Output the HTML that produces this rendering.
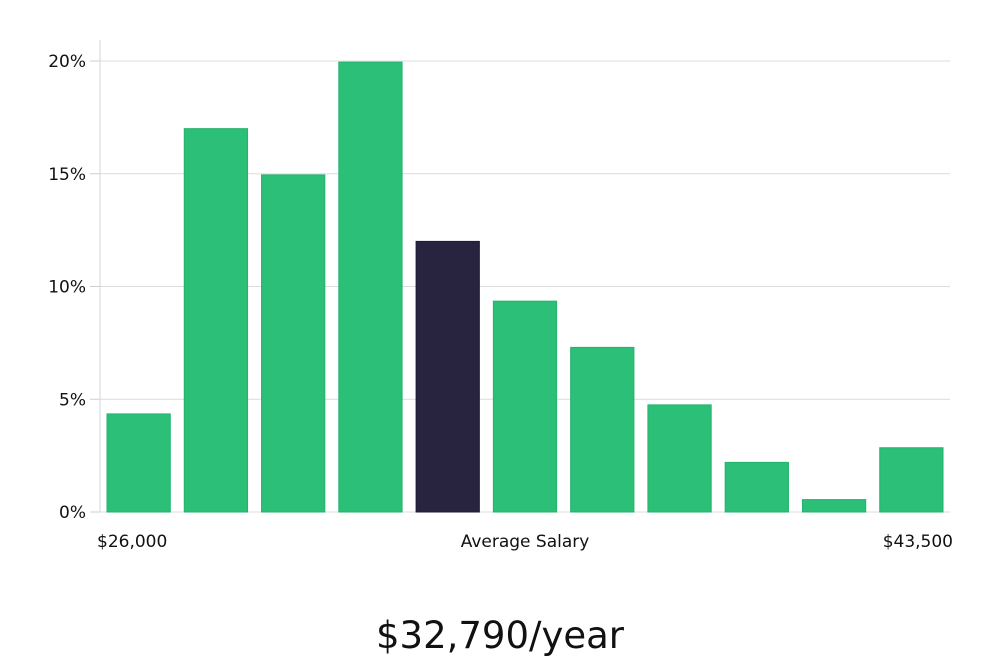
<!DOCTYPE html>
<html><head><meta charset="utf-8"><style>
body{margin:0;background:#fff;width:1000px;height:660px;overflow:hidden}
svg text{font-family:"DejaVu Sans","Liberation Sans",sans-serif;fill:#111}
</style></head><body>
<svg id="chart" width="1000" height="660" xmlns="http://www.w3.org/2000/svg"></svg>
<script>
const categories = ["b1","b2","b3","b4","b5","b6","b7","b8","b9","b10","b11"];
const values = [4.35, 17.0, 14.95, 19.95, 12.0, 9.35, 7.3, 4.75, 2.2, 0.55, 2.85];
const highlightIndex = 4;
const yTicks = [0, 5, 10, 15, 20];
const yTickLabels = ["0%", "5%", "10%", "15%", "20%"];
const xLabels = ["$26,000", "Average Salary", "$43,500"];
const headline = "$32,790/year";

const svg = document.getElementById('chart');
const NS = 'http://www.w3.org/2000/svg';
const x0 = 100, x1 = 950, yBase = 512, yTop20 = 61;
const y = v => yBase - (v / 20) * (yBase - yTop20);
const band = (x1 - x0) / categories.length;
const xb = i => x0 + i * band;
function mk(tag, attrs){const e=document.createElementNS(NS,tag);for(const k in attrs)e.setAttribute(k,attrs[k]);svg.appendChild(e);return e;}

yTicks.forEach((t,i)=>{
  const g = mk('line',{x1:x0,x2:x1,y1:y(t),y2:y(t),stroke:'#dcdcdc','stroke-width':1});
  
  
  const tk = mk('line',{x1:90,x2:x0,y1:y(t),y2:y(t),stroke:'#cfcfcf','stroke-width':1});
  
  
  const lb = mk('text',{x:86,y:y(t)+6,'text-anchor':'end','font-size':17});
  lb.textContent = yTickLabels[i];
  
  
});
const ax = mk('line',{x1:x0,x2:x0,y1:40,y2:yBase,stroke:'#d6d6d6','stroke-width':1});



values.forEach((v,i)=>{
  const w = band - 14;
  const r = mk('rect',{x:xb(i)+7,y:y(v),width:w,height:yBase-y(v),
    fill: i===highlightIndex ? '#28243f' : '#2bbf77',
    stroke: i===highlightIndex ? '#1f1b36' : '#25b26d','stroke-width':1});
  
  
});

const xl = [[97,'start'],[525,'middle'],[953,'end']];
xLabels.forEach((s,i)=>{
  const t = mk('text',{x:xl[i][0],y:547,'text-anchor':xl[i][1],'font-size':17});
  t.textContent = s;
  
  
});
const h = mk('text',{x:500,y:648,'text-anchor':'middle','font-size':37});
h.textContent = headline;


</script>
</body></html>
